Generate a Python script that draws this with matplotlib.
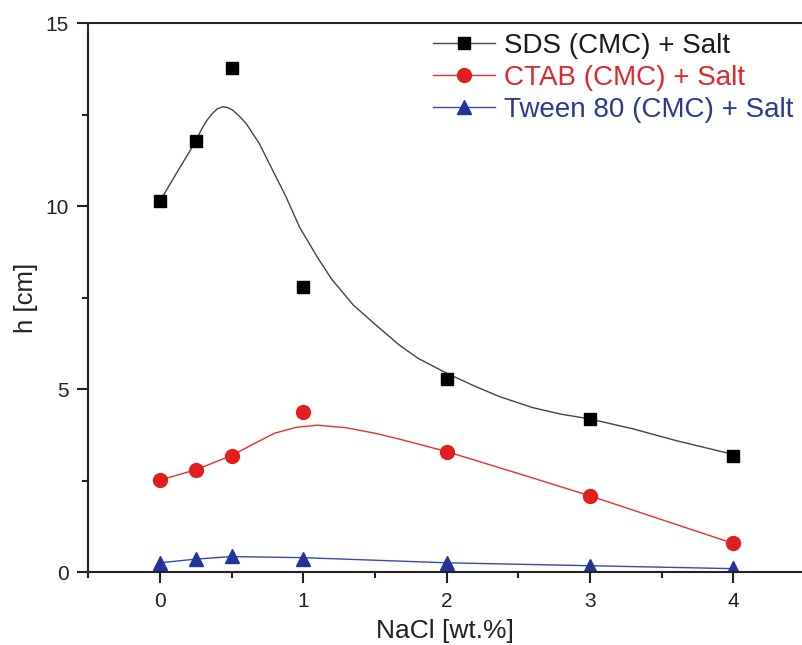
import matplotlib
matplotlib.use('Agg')
import matplotlib.pyplot as plt
from matplotlib.ticker import MultipleLocator

plt.rcParams['font.family'] = ['Liberation Sans', 'DejaVu Sans']

# measured points
nacl = [0, 0.25, 0.5, 1, 2, 3, 4]
sds = [10.14, 11.78, 13.77, 7.80, 5.27, 4.19, 3.19]
ctab = [2.52, 2.79, 3.19, 4.39, 3.30, 2.09, 0.79]
tween = [0.26, 0.35, 0.45, 0.37, 0.26, 0.18, 0.11]

# fitted curves
sds_fit_x = [0, 0.1, 0.2, 0.25, 0.29, 0.33, 0.367, 0.40, 0.437, 0.47, 0.507, 0.55, 0.60,
             0.693, 0.786, 0.88, 0.973, 1.1, 1.2, 1.35, 1.5, 1.67, 1.8, 2.0, 2.2, 2.37,
             2.6, 2.8, 3.0, 3.3, 3.6, 4.0]
sds_fit_y = [10.14, 10.8, 11.45, 11.78, 12.10, 12.36, 12.54, 12.66, 12.72, 12.70, 12.63,
             12.48, 12.27, 11.72, 10.99, 10.26, 9.44, 8.6, 8.0, 7.3, 6.78, 6.21, 5.85, 5.44,
             5.08, 4.80, 4.5, 4.32, 4.19, 3.92, 3.6, 3.22]
ctab_fit_x = [0, 0.25, 0.5, 0.65, 0.8, 0.95, 1.1, 1.3, 1.5, 1.67, 2.0, 2.5, 3.0, 3.5, 4.0]
ctab_fit_y = [2.52, 2.80, 3.19, 3.5, 3.80, 3.96, 4.02, 3.95, 3.80, 3.64, 3.30, 2.70, 2.09, 1.44, 0.79]
tween_fit_x = [0, 0.25, 0.5, 1, 1.5, 2, 3, 4]
tween_fit_y = [0.26, 0.36, 0.43, 0.40, 0.33, 0.26, 0.18, 0.10]

labels = ['SDS (CMC) + Salt', 'CTAB (CMC) + Salt', 'Tween 80 (CMC) + Salt']
line_cols = ['#444444', '#e8302a', '#3a48a8']
mark_cols = ['black', '#e41e1e', '#22349a']
text_cols = ['#1a1a1a', '#e0282a', '#2a3a8e']

fig = plt.figure(figsize=(8.02, 6.45), dpi=100)
ax = fig.add_axes([0.110, 0.1127, 0.89, 0.8512])

ax.plot(sds_fit_x, sds_fit_y, '-', color=line_cols[0], lw=1.0)
ax.plot(ctab_fit_x, ctab_fit_y, '-', color=line_cols[1], lw=1.0)
ax.plot(tween_fit_x, tween_fit_y, '-', color=line_cols[2], lw=1.0)
ax.plot(nacl, sds, 's', color=mark_cols[0], ms=8.5, ls='none')
ax.plot(nacl, ctab, 'o', color=mark_cols[1], ms=10, ls='none')
ax.plot(nacl, tween, '^', color=mark_cols[2], ms=10, ls='none')

# legend handles (line + marker)
h1, = ax.plot([], [], '-s', color=line_cols[0], mfc=mark_cols[0], mec=mark_cols[0], ms=8.5, lw=1.0)
h2, = ax.plot([], [], '-o', color=line_cols[1], mfc=mark_cols[1], mec=mark_cols[1], ms=10, lw=1.0)
h3, = ax.plot([], [], '-^', color=line_cols[2], mfc=mark_cols[2], mec=mark_cols[2], ms=10, lw=1.0)
leg = ax.legend([h1, h2, h3], labels, loc='upper left', bbox_to_anchor=(433 / 802, 1 - 33 / 645),
                bbox_transform=fig.transFigure, frameon=False, fontsize=20,
                handlelength=2.25, handletextpad=0.3, labelspacing=0.22,
                borderpad=0, borderaxespad=0)
for t, c in zip(leg.get_texts(), text_cols):
    t.set_color(c)

ax.set_xlim(-0.5, 4.48)
ax.set_ylim(0, 15)
ax.xaxis.set_major_locator(MultipleLocator(1))
ax.xaxis.set_minor_locator(MultipleLocator(0.5))
ax.yaxis.set_major_locator(MultipleLocator(5))
ax.yaxis.set_minor_locator(MultipleLocator(2.5))
ax.spines['right'].set_visible(False)
for s in ['left', 'bottom', 'top']:
    ax.spines[s].set_linewidth(1.5)
    ax.spines[s].set_color('#222222')
ax.tick_params(which='major', direction='out', length=8, width=1.5, labelsize=15, pad=6,
               colors='#222222', top=False, right=False)
ax.tick_params(which='minor', direction='out', length=4, width=1.5, top=False, right=False,
               colors='#222222')
ax.set_xlabel('NaCl [wt.%]', fontsize=19, color='#222222', labelpad=6)
ax.set_ylabel('h [cm]', fontsize=18.5, color='#222222', labelpad=5)

fig.savefig('out.png', dpi=100)
